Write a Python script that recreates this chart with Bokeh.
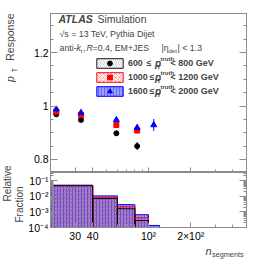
import math
from bokeh.plotting import figure
from bokeh.layouts import column, row
from bokeh.models import (FixedTicker, Label, Legend, LegendItem, LinearAxis, LogAxis,
                          Range1d, CustomJSTickFormatter)
from bokeh.embed import file_html
from bokeh.resources import INLINE

FONT = "Liberation Sans"

# ---------------- data ----------------
n_seg = [22, 33, 59, 83]
n_seg_hi = [22, 33, 59, 83, 109]
resp_600 = [0.969, 0.948, 0.898, 0.850]
err_600 = [0.004, 0.004, 0.006, 0.015]
resp_1000 = [0.979, 0.966, 0.929, 0.908]
err_1000 = [0.004, 0.004, 0.005, 0.008]
resp_1600 = [0.988, 0.975, 0.948, 0.919, 0.929]
err_1600 = [0.004, 0.004, 0.005, 0.008, 0.022]

bin_edges = [20, 40, 60, 80, 100, 120, 500]
frac_600 = [0.047, 0.0071, 0.0016, 2.8e-4, 6e-5, 2e-5]
frac_1000 = [0.048, 0.0086, 0.0021, 4.2e-4, 8e-5, 2e-5]
frac_1600 = [0.051, 0.0105, 0.0029, 6.6e-4, 1.35e-4, 1.0e-4]

x_ticks = [30, 40, 100, 200]
x_tick_labels = ["30", "40", "10²", "2×10²"]
x_minor = [20, 50, 60, 70, 80, 90, 300, 400, 500]
y_ticks_top = [0.8, 1.0, 1.2]
y_tick_labels_top = ["0.8", "1", "1.2"]
y_minor_top = [0.75, 0.85, 0.9, 0.95, 1.05, 1.1, 1.15, 1.25, 1.3]
y_ticks_bot = [1e-4, 1e-3, 1e-2, 1e-1]
y_tick_labels_bot = ["10⁻⁴", "10⁻³", "10⁻²", "10⁻¹"]
y_minor_bot = [2e-4, 3e-4, 4e-4, 5e-4, 6e-4, 7e-4, 8e-4, 9e-4,
               2e-3, 3e-3, 4e-3, 5e-3, 6e-3, 7e-3, 8e-3, 9e-3,
               2e-2, 3e-2, 4e-2, 5e-2, 6e-2, 7e-2, 8e-2, 9e-2,
               2e-1, 3e-1]
legend_labels = ["600", "1000", "1600"]
legend_tails = ["< 800 GeV", "< 1200 GeV", "< 2000 GeV"]

# ---------------- geometry (page pixels) ----------------
X0, X1 = 20, 500
YT0, YT1 = 0.7514, 1.3458
YB0, YB1 = 1e-4, 0.33
LW = 25                   # width of the left title strip
FL, FW = 49, 196          # frame left (page), frame width
FT, FH = 13, 159          # upper frame top, height
BH = 55                   # lower frame height
XLAB = 14                 # room for x tick labels
SH = 16                   # height of bottom title strip
RB = 12                   # right border
TOTAL_H = FT + FH + BH + XLAB + SH

AXC = "#8c8c8c"
empty_fmt = CustomJSTickFormatter(code="return ''")


def tx(px):
    return X0 * (X1 / X0) ** ((px - FL) / FW)


def ty(py):
    return YT1 - (py - FT) * (YT1 - YT0) / FH


style_600 = dict(fill_alpha=0, hatch_pattern="/", hatch_color="black", hatch_alpha=0.25,
                 hatch_scale=4, hatch_weight=0.7, line_color="black", line_width=0.9)
style_1000 = dict(fill_color="#ff0000", fill_alpha=0.05, hatch_pattern="x", hatch_color="#ff0000",
                  hatch_alpha=0.4, hatch_scale=4, hatch_weight=0.7, line_color="#ff0000", line_width=1)
style_1600 = dict(fill_color="#0000ff", fill_alpha=0.38, hatch_pattern="|", hatch_color="#0000ff",
                  hatch_alpha=0.5, hatch_scale=3, hatch_weight=0.7, line_color="#0000ff", line_width=1)


def style_axis(ax, ticker, tick_in=5, minor_in=3):
    ax.ticker = ticker
    ax.major_tick_in = tick_in
    ax.major_tick_out = 0
    ax.minor_tick_in = minor_in
    ax.minor_tick_out = 0
    ax.axis_line_color = AXC
    ax.major_tick_line_color = AXC
    ax.minor_tick_line_color = AXC
    ax.major_label_text_font = FONT
    ax.major_label_text_font_size = "10.5px"
    ax.major_label_text_color = "black"
    ax.major_label_standoff = 2


def blank_axis(ax):
    ax.formatter = empty_fmt
    ax.major_label_text_font_size = "0px"
    ax.major_label_standoff = 0


def lab(fig, x, y, text, size="8.8px", style="normal", align="left", angle=0.0):
    fig.add_layout(Label(x=x, y=y, text=text, text_font=FONT, text_font_size=size,
                         text_font_style=style, text_align=align, text_baseline="middle",
                         angle=angle))


def slab(fig, x, y, text, size="10.5px", style="normal", align="left", angle=0.0):
    fig.add_layout(Label(x=x, y=y, x_units="screen", y_units="screen", text=text,
                         text_font=FONT, text_font_size=size, text_font_style=style,
                         text_align=align, text_baseline="middle", angle=angle))


def blank_fig(w, h, left=0, right=0):
    f = figure(frame_width=w, frame_height=h, min_border_left=left, min_border_right=right,
               min_border_top=0, min_border_bottom=0, x_axis_location=None,
               y_axis_location=None, x_range=Range1d(0, 1), y_range=Range1d(0, 1),
               output_backend="svg", toolbar_location=None)
    f.grid.visible = False
    f.outline_line_color = None
    return f


# ---------------- upper panel ----------------
p = figure(x_axis_type="log", x_range=Range1d(X0, X1), y_range=Range1d(YT0, YT1),
           frame_width=FW, frame_height=FH, min_border_left=FL - LW, min_border_right=RB,
           min_border_top=FT, min_border_bottom=0, output_backend="svg", toolbar_location=None)
p.grid.visible = False
p.outline_line_color = AXC

style_axis(p.xaxis[0], FixedTicker(ticks=x_ticks, minor_ticks=x_minor))
blank_axis(p.xaxis[0])
p.xaxis[0].axis_line_color = "#333333"

style_axis(p.yaxis[0], FixedTicker(ticks=y_ticks_top, minor_ticks=y_minor_top), tick_in=7)
p.yaxis[0].major_label_overrides = dict(zip(y_ticks_top, y_tick_labels_top))
ry = LinearAxis()
style_axis(ry, FixedTicker(ticks=y_ticks_top, minor_ticks=y_minor_top), tick_in=7)
blank_axis(ry)
p.add_layout(ry, "right")

for xs, ys, es, col in [(n_seg, resp_600, err_600, "black"),
                        (n_seg, resp_1000, err_1000, "#ff0000"),
                        (n_seg_hi, resp_1600, err_1600, "#0000ff")]:
    p.segment(x0=xs, x1=xs, y0=[y - e for y, e in zip(ys, es)], y1=[y + e for y, e in zip(ys, es)],
              line_color=col, line_width=1)

r600 = p.scatter(n_seg, resp_600, marker="circle", size=5, color="black")
r1000 = p.scatter(n_seg, resp_1000, marker="square", size=5, color="#ff0000")
r1600 = p.scatter(n_seg_hi, resp_1600, marker="triangle", size=6, color="#0000ff")

lefts = bin_edges[:-1]
rights = bin_edges[1:]
# fractions also drawn in the upper panel (far below its range, hence clipped);
# these renderers only feed the legend swatches
q600 = p.quad(left=lefts, right=rights, bottom=1e-6, top=frac_600, **style_600)
q1000 = p.quad(left=lefts, right=rights, bottom=1e-6, top=frac_1000, **style_1000)
q1600 = p.quad(left=lefts, right=rights, bottom=1e-6, top=frac_1600, **style_1600)

legend = Legend(items=[LegendItem(label=legend_labels[0], renderers=[q600, r600]),
                       LegendItem(label=legend_labels[1], renderers=[q1000, r1000]),
                       LegendItem(label=legend_labels[2], renderers=[q1600, r1600])],
                location=(43, 75), glyph_width=33, glyph_height=12, label_height=12,
                label_width=10, spacing=2, padding=0, margin=0, label_standoff=2,
                border_line_color=None, background_fill_alpha=0,
                label_text_font=FONT, label_text_font_size="8.8px", label_text_font_style="bold")
p.add_layout(legend, "center")

leq_x = [145, 148, 148]
for i, tail in enumerate(legend_tails):
    yc = 62.5 + 14 * i
    lab(p, tx(leq_x[i]), ty(yc), "≤", size="8.8px", style="bold")
    lab(p, tx(153.5), ty(yc), "p", size="10px", style="bold italic")
    lab(p, tx(155.5), ty(yc + 4), "T", size="6px", style="bold")
    lab(p, tx(159), ty(yc - 4.5), "truth", size="6px", style="bold")
    lab(p, tx(169), ty(yc), tail, size="9px", style="bold")

lab(p, tx(57), ty(18.5), "ATLAS", size="10.5px", style="bold italic")
lab(p, tx(96), ty(18.5), "Simulation", size="10.5px")
lab(p, tx(58), ty(33), "√s = 13 TeV, Pythia Dijet")
lab(p, tx(58), ty(47), "anti-")
lab(p, tx(75), ty(47), "k", style="italic")
lab(p, tx(79.3), ty(50), "t", size="6px")
lab(p, tx(81.5), ty(47), ",")
lab(p, tx(85), ty(47), "R", style="italic")
lab(p, tx(91), ty(47), "=0.4, EM+JES")
lab(p, tx(160), ty(47), "|η")
lab(p, tx(167), ty(50), "det", size="6px")
lab(p, tx(176), ty(47), "| < 1.3")

# ---------------- lower panel ----------------
q = figure(x_axis_type="log", y_axis_type="log", x_range=p.x_range, y_range=Range1d(YB0, YB1),
           frame_width=FW, frame_height=BH, min_border_left=FL - LW, min_border_right=RB,
           min_border_top=0, min_border_bottom=XLAB, output_backend="svg", toolbar_location=None)
q.grid.visible = False
q.outline_line_color = AXC

style_axis(q.xaxis[0], FixedTicker(ticks=x_ticks, minor_ticks=x_minor))
q.xaxis[0].major_label_overrides = dict(zip(x_ticks, x_tick_labels))
style_axis(q.yaxis[0], FixedTicker(ticks=y_ticks_bot, minor_ticks=y_minor_bot), tick_in=7)
q.yaxis[0].major_label_overrides = dict(zip(y_ticks_bot, y_tick_labels_bot))
ry2 = LogAxis()
style_axis(ry2, FixedTicker(ticks=y_ticks_bot, minor_ticks=y_minor_bot), tick_in=7)
blank_axis(ry2)
q.add_layout(ry2, "right")

q.quad(left=lefts, right=rights, bottom=1e-6, top=frac_1600, **style_1600)
q.quad(left=lefts, right=rights, bottom=1e-6, top=frac_1000, **style_1000)
q.quad(left=lefts, right=rights, bottom=1e-6, top=frac_600, **style_600)

# ---------------- title strips ----------------
lf = blank_fig(LW, TOTAL_H)        # y titles; screen y counted from its bottom
slab(lf, 9.5, TOTAL_H - 13, "Response", align="right", angle=math.pi / 2)
slab(lf, 9.5, TOTAL_H - 78.5, "p", style="italic", align="center", angle=math.pi / 2)
slab(lf, 14, TOTAL_H - 69.5, "T", size="7px", align="center", angle=math.pi / 2)
slab(lf, 6.5, TOTAL_H - 183, "Relative", size="10px", align="center", angle=math.pi / 2)
slab(lf, 19, TOTAL_H - 204, "Fraction", size="10px", align="center", angle=math.pi / 2)

# x title strip: its frame lines up with the panels' frames
bs = blank_fig(FW, SH, left=FL - LW, right=RB)
slab(bs, 204 - FL, TOTAL_H - 247, "n", size="11px", style="italic")
slab(bs, 210.5 - FL, TOTAL_H - 250.5, "segments", size="7.3px")

layout = row(lf, column(p, q, bs, spacing=0), spacing=0)
open("out.html", "w").write(file_html(layout, INLINE))
